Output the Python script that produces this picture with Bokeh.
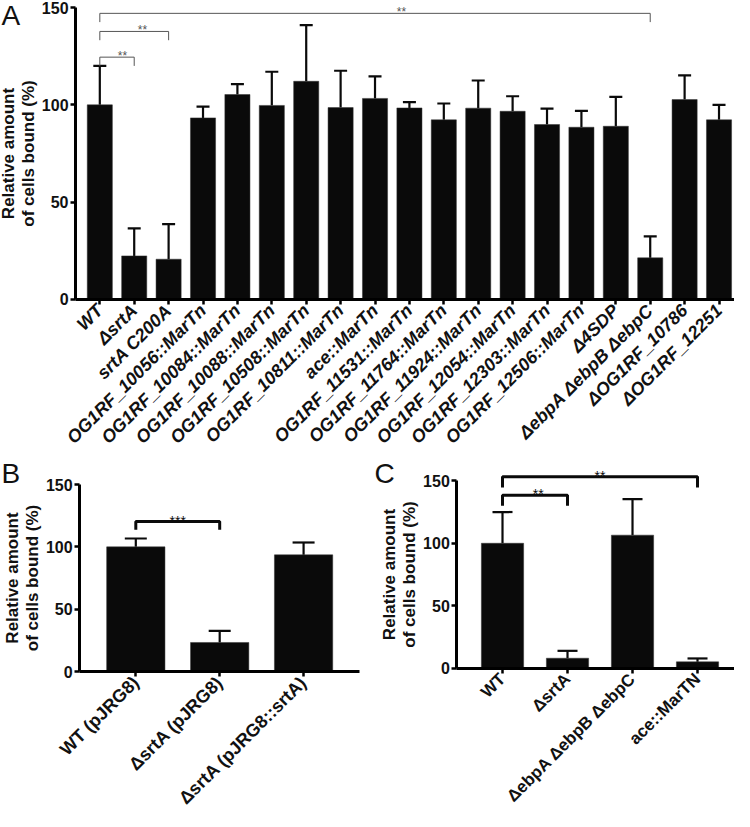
from math import pi
from bokeh.plotting import figure
from bokeh.models import FixedTicker, Range1d, Label, Whisker, TeeHead, ColumnDataSource
from bokeh.layouts import column, row
from bokeh.embed import file_html
from bokeh.resources import INLINE

FONT = "Liberation Sans"
YLABEL = "Relative amount\nof cells bound (%)"

# ---------------- data ----------------
a_labels = ["WT", "ΔsrtA", "srtA C200A", "OG1RF_10056::MarTn", "OG1RF_10084::MarTn",
            "OG1RF_10088::MarTn", "OG1RF_10508::MarTn", "OG1RF_10811::MarTn", "ace::MarTn",
            "OG1RF_11531::MarTn", "OG1RF_11764::MarTn", "OG1RF_11924::MarTn",
            "OG1RF_12054::MarTn", "OG1RF_12303::MarTn", "OG1RF_12506::MarTn", "Δ4SDP",
            "ΔebpA ΔebpB ΔebpC", "ΔOG1RF_10786", "ΔOG1RF_12251"]
a_values = [100, 22.4, 20.7, 93.3, 105.3, 99.7, 112.1, 98.6, 103.3, 98.4, 92.3, 98.3,
            96.7, 89.9, 88.5, 89.0, 21.4, 102.7, 92.3]
a_sd = [20, 14.1, 18.0, 5.8, 5.3, 17.3, 28.9, 18.9, 11.3, 3.0, 8.4, 14.2, 7.7, 8.2,
        8.4, 15.1, 11.0, 12.4, 7.7]
# significance brackets: (left index, right index, level, text, text position)
a_brackets = [(0, 1, 124.5, "**", 0.66), (0, 2, 137.7, "**", 1.24),
              (0, 16, 147.0, "**", 8.77)]

b_labels = ["WT (pJRG8)", "ΔsrtA (pJRG8)", "ΔsrtA (pJRG8::srtA)"]
b_values = [100, 23.3, 93.6]
b_sd = [6.7, 9.3, 9.9]
b_brackets = [(0, 1, 120.3, "***", 0.5)]

c_labels = ["WT", "ΔsrtA", "ΔebpA ΔebpB ΔebpC", "ace::MarTN"]
c_values = [100, 8.0, 106.5, 5.1]
c_sd = [25, 5.9, 28.8, 2.7]
c_brackets = [(0, 1, 138.5, "**", 0.55), (0, 3, 153.2, "**", 1.5)]

y_ticks = [0, 50, 100, 150]


def make_panel(labels, values, sd, brackets, letter, width, height, x_rng, y_rng,
               axis_x, x_end, bar_w, tick_font, tick_style, cap, br_color, br_width,
               br_drop, star_size, letter_pos):
    n = len(labels)
    xs = list(range(n))
    p = figure(width=width, height=height, output_backend="svg", toolbar_location=None,
               x_range=Range1d(*x_rng), y_range=Range1d(*y_rng),
               min_border_left=0, min_border_right=0, min_border_top=0,
               min_border_bottom=0)
    p.outline_line_color = None
    p.grid.visible = False
    p.background_fill_color = "white"
    p.border_fill_color = "white"

    src = ColumnDataSource(dict(x=xs, top=values,
                                upper=[v + s for v, s in zip(values, sd)]))
    p.vbar(x="x", top="top", bottom=0, width=bar_w, source=src,
           fill_color="#0a0a0a", line_color="#333333", line_width=0.5)
    wh = Whisker(source=src, base="x", lower="top", upper="upper", dimension="height",
                 line_color="#0a0a0a", line_width=2.2, lower_head=None,
                 upper_head=TeeHead(size=cap, line_width=2.2, line_color="#0a0a0a"))
    p.add_layout(wh)

    for (i0, i1, lev, txt, tx) in brackets:
        p.line([i0, i0, i1, i1], [lev - br_drop, lev, lev, lev - br_drop],
               line_color=br_color, line_width=br_width)
        p.add_layout(Label(x=tx, y=lev, text=txt, text_align="center",
                           text_baseline="alphabetic", y_offset=1, text_font=FONT,
                           text_font_size=f"{star_size}px", text_color=br_color))

    # axes, drawn at fixed data locations inside the canvas
    xa = p.xaxis[0]
    xa.fixed_location = 0
    xa.bounds = (axis_x, x_end)
    xa.ticker = FixedTicker(ticks=xs)
    xa.major_label_overrides = {i: lab for i, lab in enumerate(labels)}
    xa.major_label_orientation = pi / 4
    xa.major_label_text_font = FONT
    xa.major_label_text_font_style = tick_style
    xa.major_label_text_font_size = f"{tick_font}px"
    xa.major_label_text_color = "#111111"
    xa.minor_tick_line_color = None
    xa.major_tick_out = 5
    xa.major_tick_in = 0
    xa.major_tick_line_width = 2.5
    xa.axis_line_width = 3
    xa.major_label_standoff = 3

    ya = p.yaxis[0]
    ya.fixed_location = axis_x
    ya.ticker = FixedTicker(ticks=y_ticks)
    ya.bounds = (0, 150)
    ya.minor_tick_line_color = None
    ya.major_tick_out = 5
    ya.major_tick_in = 0
    ya.major_tick_line_width = 2.5
    ya.axis_line_width = 3
    ya.major_label_text_font = FONT
    ya.major_label_text_font_style = "bold"
    ya.major_label_text_font_size = "16px"
    ya.major_label_text_color = "#111111"
    ya.major_label_standoff = 2
    ya.axis_label = YLABEL
    ya.axis_label_text_font = FONT
    ya.axis_label_text_font_style = "bold"
    ya.axis_label_text_font_size = "17px"
    ya.axis_label_text_line_height = 1.05
    ya.axis_label_text_color = "#111111"
    ya.axis_label_standoff = 1

    p.add_layout(Label(x=letter_pos[0], y=letter_pos[1], text=letter, text_font=FONT,
                       text_font_size="28px", text_color="#111111",
                       text_baseline="alphabetic", text_align="left"))
    return p


# Panel A: page x 8..742, y 8..460; axis x at page 83, bars 34.4 px apart, 1.947 px/unit
pa = make_panel(a_labels, a_values, a_sd, a_brackets, "A", 734, 452,
                (-2.887, 18.45), (-78.6, 153.6), -0.706, 18.45, 0.73, 18, "bold italic",
                13, "#555555", 1, 4.5, 12, (-2.86, 145.9))
# Panel B: page x 8..375, y 460..819; axis at page 87, 83.9 px apart, 1.2467 px/unit
pb = make_panel(b_labels, b_values, b_sd, b_brackets, "B", 367, 359,
                (-1.613, 2.762), (-112.3, 175.7), -0.67, 2.67, 0.695, 18, "bold",
                22, "#0a0a0a", 3, 6.5, 14, (-1.60, 158.5))
# Panel C: page x 375..742, y 460..819; axis at page 464, 65 px apart, 1.2493 px/unit
pc = make_panel(c_labels, c_values, c_sd, c_brackets, "C", 367, 359,
                (-2.077, 3.569), (-114.7, 172.65), -0.703, 3.569, 0.65, 17, "bold",
                20, "#0a0a0a", 3, 8.5, 14, (-1.97, 155.5))

layout = column(pa, row(pb, pc))
open("out.html", "w").write(file_html(layout, INLINE))
